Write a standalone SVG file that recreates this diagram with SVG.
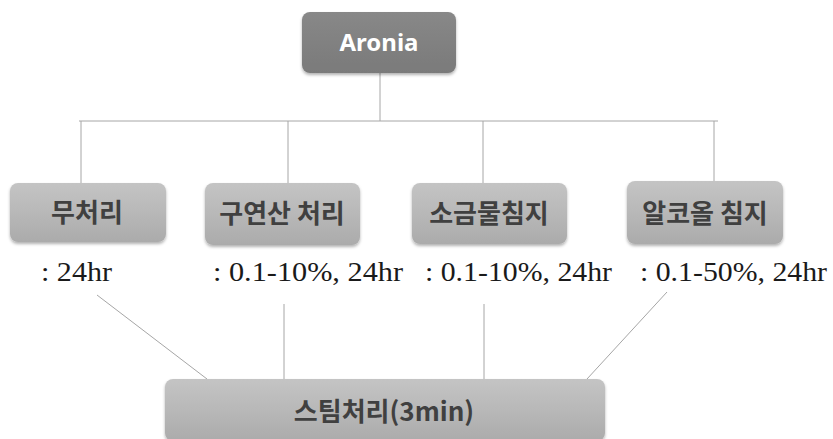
<svg xmlns="http://www.w3.org/2000/svg" width="833" height="439" viewBox="0 0 833 439">
<style>
.box{fill:url(#g);}
.dark{fill:url(#gd);}
.kt{font-family:"Noto Sans CJK KR","Noto Sans",sans-serif;font-weight:bold;font-size:26px;fill:#404040;text-anchor:middle;}
.wt{font-family:"Noto Sans","Liberation Sans",sans-serif;font-weight:bold;font-size:24px;fill:#ffffff;text-anchor:middle;}
.st{font-family:"Liberation Serif","DejaVu Serif",serif;font-size:28px;fill:#1a1a1a;}
.ln{stroke:#a6a6a6;stroke-width:1;fill:none;}
</style>
<defs>
<linearGradient id="g" x1="0" y1="0" x2="0" y2="1">
<stop offset="0" stop-color="#c4c4c4"/>
<stop offset="0.5" stop-color="#b8b8b8"/>
<stop offset="1" stop-color="#ababab"/>
</linearGradient>
<linearGradient id="gd" x1="0" y1="0" x2="0" y2="1">
<stop offset="0" stop-color="#888888"/>
<stop offset="1" stop-color="#7a7a7a"/>
</linearGradient>
<filter id="sh" x="-10%" y="-20%" width="120%" height="150%">
<feDropShadow dx="0" dy="2" stdDeviation="1.5" flood-color="#000" flood-opacity="0.3"/>
</filter>
</defs>
<g id="connectors">
<line class="ln" x1="380" y1="73" x2="380" y2="121"/>
<line class="ln" x1="79" y1="121" x2="718" y2="121"/>
<line class="ln" x1="81" y1="121" x2="81" y2="183"/>
<line class="ln" x1="288" y1="121" x2="288" y2="183"/>
<line class="ln" x1="483" y1="121" x2="483" y2="183"/>
<line class="ln" x1="714" y1="121" x2="714" y2="181"/>
<line class="ln" x1="97" y1="295" x2="207" y2="379"/>
<line class="ln" x1="284" y1="304" x2="284" y2="379"/>
<line class="ln" x1="484" y1="304" x2="484" y2="379"/>
<line class="ln" x1="667" y1="292" x2="587" y2="379"/>
</g>
<g id="aronia">
<rect class="dark" x="302" y="12" width="154" height="61" rx="8" filter="url(#sh)"/>
<text class="wt" x="379" y="51">Aronia</text>
</g>
<g id="n1">
<rect class="box" x="10" y="183" width="156" height="59" rx="8" filter="url(#sh)"/>
<text class="kt" x="87" y="222">무처리</text>
</g>
<g id="n2">
<rect class="box" x="205" y="183" width="155" height="62" rx="8" filter="url(#sh)"/>
<text class="kt" x="282" y="223">구연산 처리</text>
</g>
<g id="n3">
<rect class="box" x="412" y="183" width="155" height="61" rx="8" filter="url(#sh)"/>
<text class="kt" x="489" y="223">소금물침지</text>
</g>
<g id="n4">
<rect class="box" x="627" y="181" width="156" height="63" rx="8" filter="url(#sh)"/>
<text class="kt" x="705" y="223">알코올 침지</text>
</g>
<g id="labels">
<text class="st" x="41" y="281" textLength="71" lengthAdjust="spacingAndGlyphs">: 24hr</text>
<text class="st" x="213" y="281" textLength="190" lengthAdjust="spacingAndGlyphs">: 0.1-10%, 24hr</text>
<text class="st" x="425" y="281" textLength="187" lengthAdjust="spacingAndGlyphs">: 0.1-10%, 24hr</text>
<text class="st" x="640" y="281" textLength="187" lengthAdjust="spacingAndGlyphs">: 0.1-50%, 24hr</text>
</g>
<g id="steam">
<rect class="box" x="165" y="379" width="440" height="62" rx="8" filter="url(#sh)"/>
<text class="kt" x="384" y="421">스팀처리(3min)</text>
</g>
</svg>
